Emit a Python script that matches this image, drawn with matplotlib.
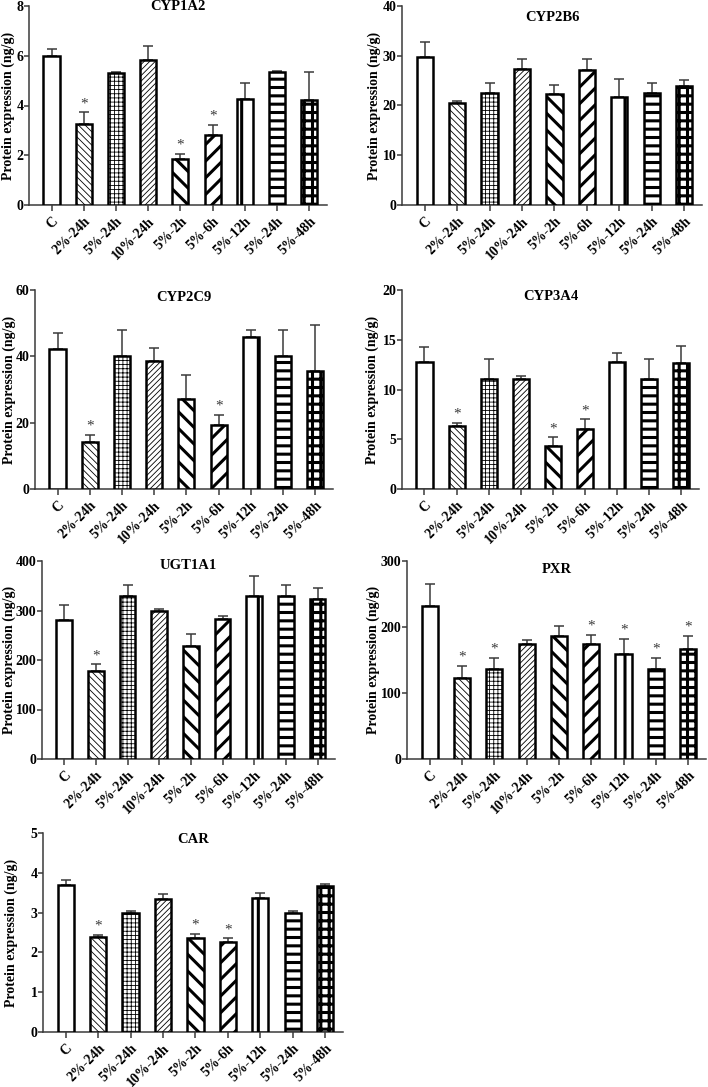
import numpy as np
import matplotlib
matplotlib.use("Agg")
import matplotlib.pyplot as plt

plt.rcParams['font.family'] = ['Liberation Serif', 'DejaVu Serif']
plt.rcParams['font.weight'] = 'bold'

groups = ['C', '2%-24h', '5%-24h', '10%-24h', '5%-2h', '5%-6h', '5%-12h', '5%-24h', '5%-48h']

# means and upper error (SD)
cyp1a2 = [6.01, 3.26, 5.32, 5.82, 1.85, 2.82, 4.25, 5.34, 4.23]
cyp1a2_err = [0.26, 0.46, 0.04, 0.57, 0.22, 0.38, 0.65, 0.04, 1.13]
cyp1a2_sig = [1, 4, 5]

cyp2b6 = [29.8, 20.5, 22.5, 27.4, 22.3, 27.2, 21.8, 22.5, 24.0]
cyp2b6_err = [3.0, 0.5, 2.1, 1.9, 1.8, 2.1, 3.5, 2.1, 1.1]
cyp2b6_sig = []

cyp2c9 = [42.2, 14.3, 40.2, 38.7, 27.0, 19.3, 45.7, 40.2, 35.6]
cyp2c9_err = [4.8, 2.1, 7.8, 3.7, 7.3, 3.1, 2.3, 7.8, 13.9]
cyp2c9_sig = [1, 5]

cyp3a4 = [12.78, 6.29, 11.1, 11.07, 4.28, 6.05, 12.78, 11.1, 12.64]
cyp3a4_err = [1.47, 0.33, 1.94, 0.3, 0.9, 0.94, 0.93, 1.94, 1.71]
cyp3a4_sig = [1, 4, 5]

ugt1a1 = [281, 178.5, 330, 298, 228, 283, 330, 330, 323.5]
ugt1a1_err = [30, 12.5, 22, 6, 24, 5.6, 40, 22, 22]
ugt1a1_sig = [1]

pxr = [231.5, 123.3, 136.9, 175, 187, 174, 158.5, 137, 166]
pxr_err = [34.2, 17.1, 16.1, 5.7, 15, 14, 23.5, 16, 20]
pxr_sig = [1, 2, 5, 6, 7, 8]

car = [3.69, 2.38, 2.99, 3.33, 2.35, 2.26, 3.36, 2.99, 3.68]
car_err = [0.14, 0.05, 0.04, 0.13, 0.12, 0.09, 0.12, 0.04, 0.05]
car_sig = [1, 4, 5]

hatches = ['', '\\\\\\\\\\', '++++', '//////', '\\\\', '//', '|', '--', '++']
hatch_lw = [0.6, 0.6, 0.6, 0.6, 2.2, 2.2, 2.2, 2.2, 2.2]

W, H = 708, 1087
fig = plt.figure(figsize=(W / 100, H / 100), dpi=100)

# name, values, errors, significant, ymax, ystep, axes box px (l, t, r, b), title y, ylabel x px
panels = [
    ('CYP1A2', cyp1a2, cyp1a2_err, cyp1a2_sig, 8, 2, (29, 6, 327, 205), 1.0, 8),
    ('CYP2B6', cyp2b6, cyp2b6_err, cyp2b6_sig, 40, 10, (402, 6, 702, 205), 0.94, 374),
    ('CYP2C9', cyp2c9, cyp2c9_err, cyp2c9_sig, 60, 20, (35, 290, 333, 489), 0.96, 9),
    ('CYP3A4', cyp3a4, cyp3a4_err, cyp3a4_sig, 20, 5, (402, 290, 699, 489), 0.965, 372),
    ('UGT1A1', ugt1a1, ugt1a1_err, ugt1a1_sig, 400, 100, (42, 561, 335, 759), 0.975, 9),
    ('PXR', pxr, pxr_err, pxr_sig, 300, 100, (407, 561, 706, 759), 0.955, 373),
    ('CAR', car, car_err, car_sig, 5, 1, (43, 833, 343, 1032), 0.965, 11),
]

x = np.arange(len(groups))
axc = '#3a3a3a'

for name, vals, errs, sig, ymax, ystep, box, ty, lx in panels:
    l, t, r, b = box
    ax = fig.add_axes([l / W, 1 - b / H, (r - l) / W, (b - t) / H])
    bars = ax.bar(x, vals, width=0.5, color='white', edgecolor='black', linewidth=1.8, zorder=3)
    for bar, h, lw in zip(bars, hatches, hatch_lw):
        bar.set_hatch(h)
        if hasattr(bar, 'set_hatch_linewidth'):
            bar.set_hatch_linewidth(lw)
    ax.errorbar(x, vals, yerr=[np.zeros(len(vals)), errs], fmt='none', ecolor=axc,
                elinewidth=1.1, capsize=3.5, capthick=1.1, zorder=2)
    for i in sig:
        ax.text(x[i], vals[i] + errs[i] + ymax * 0.012, '*', ha='center', va='bottom',
                fontsize=11, color=axc, fontweight='normal')
    ax.set_xlim(-0.7, 8.55)
    ax.set_ylim(0, ymax)
    ax.set_yticks(np.arange(0, ymax + ystep / 2, ystep))
    ax.set_xticks(x)
    ax.set_xticklabels(groups, rotation=45, ha='right', rotation_mode='anchor', fontsize=10)
    ax.tick_params(axis='y', labelsize=10, length=3.5, width=1.1, color=axc, pad=0.5)
    ax.tick_params(axis='x', length=4, width=1.1, color=axc, pad=3)
    for s in ['top', 'right']:
        ax.spines[s].set_visible(False)
    for s in ['left', 'bottom']:
        ax.spines[s].set_color(axc)
        ax.spines[s].set_linewidth(1.1)
    ax.set_ylabel('Protein expression (ng/g)', fontsize=10, fontweight='bold')
    ax.yaxis.set_label_coords((lx - l) / (r - l), 0.5)
    ax.yaxis.label.set_va('center')
    ax.text(0.5, ty, name, transform=ax.transAxes, ha='center', va='center', fontsize=10.5)

fig.savefig('out.png', dpi=100)
